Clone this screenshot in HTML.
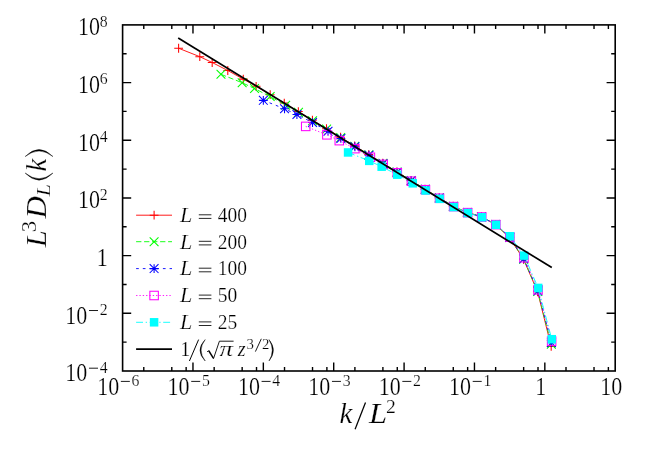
<!DOCTYPE html>
<html><head><meta charset="utf-8"><title>L^3 D_L(k) scaling plot</title>
<style>html,body{margin:0;padding:0;background:#fff}svg{display:block;will-change:transform}text{font-family:"Liberation Serif", serif;fill:#000;stroke:#fff;stroke-width:0.22px;paint-order:fill stroke}</style></head><body>
<svg width="654" height="449" viewBox="0 0 654 449">
<rect width="654" height="449" fill="#fff"/>
<path d="M178.61 48.26L199.79 56.68L212.18 62.50L227.79 70.50L243.28 79.12L256.12 86.31L270.19 94.66L284.27 103.07L298.34 111.57L312.42 120.12L326.49 128.67L340.57 137.23L354.64 145.88L368.71 154.53L382.79 163.18L396.86 171.84L410.94 180.49L425.01 189.14L439.09 197.79L453.16 206.24L467.23 212.37L481.31 216.73L495.38 224.36L509.46 237.50L523.53 259.24L537.61 291.82L551.18 346.46" stroke="#ff0000" stroke-width="0.9" fill="none"/>
<path d="M174.21 48.26h8.8M178.61 43.86v8.8" stroke="#ff0000" stroke-width="1.05" fill="none"/>
<path d="M195.39 56.68h8.8M199.79 52.28v8.8" stroke="#ff0000" stroke-width="1.05" fill="none"/>
<path d="M207.78 62.50h8.8M212.18 58.10v8.8" stroke="#ff0000" stroke-width="1.05" fill="none"/>
<path d="M223.39 70.50h8.8M227.79 66.10v8.8" stroke="#ff0000" stroke-width="1.05" fill="none"/>
<path d="M238.88 79.12h8.8M243.28 74.72v8.8" stroke="#ff0000" stroke-width="1.05" fill="none"/>
<path d="M251.72 86.31h8.8M256.12 81.91v8.8" stroke="#ff0000" stroke-width="1.05" fill="none"/>
<path d="M265.79 94.66h8.8M270.19 90.26v8.8" stroke="#ff0000" stroke-width="1.05" fill="none"/>
<path d="M279.87 103.07h8.8M284.27 98.67v8.8" stroke="#ff0000" stroke-width="1.05" fill="none"/>
<path d="M293.94 111.57h8.8M298.34 107.17v8.8" stroke="#ff0000" stroke-width="1.05" fill="none"/>
<path d="M308.02 120.12h8.8M312.42 115.72v8.8" stroke="#ff0000" stroke-width="1.05" fill="none"/>
<path d="M322.09 128.67h8.8M326.49 124.27v8.8" stroke="#ff0000" stroke-width="1.05" fill="none"/>
<path d="M336.17 137.23h8.8M340.57 132.83v8.8" stroke="#ff0000" stroke-width="1.05" fill="none"/>
<path d="M350.24 145.88h8.8M354.64 141.48v8.8" stroke="#ff0000" stroke-width="1.05" fill="none"/>
<path d="M364.31 154.53h8.8M368.71 150.13v8.8" stroke="#ff0000" stroke-width="1.05" fill="none"/>
<path d="M378.39 163.18h8.8M382.79 158.78v8.8" stroke="#ff0000" stroke-width="1.05" fill="none"/>
<path d="M392.46 171.84h8.8M396.86 167.44v8.8" stroke="#ff0000" stroke-width="1.05" fill="none"/>
<path d="M406.54 180.49h8.8M410.94 176.09v8.8" stroke="#ff0000" stroke-width="1.05" fill="none"/>
<path d="M420.61 189.14h8.8M425.01 184.74v8.8" stroke="#ff0000" stroke-width="1.05" fill="none"/>
<path d="M434.69 197.79h8.8M439.09 193.39v8.8" stroke="#ff0000" stroke-width="1.05" fill="none"/>
<path d="M448.76 206.24h8.8M453.16 201.84v8.8" stroke="#ff0000" stroke-width="1.05" fill="none"/>
<path d="M462.83 212.37h8.8M467.23 207.97v8.8" stroke="#ff0000" stroke-width="1.05" fill="none"/>
<path d="M476.91 216.73h8.8M481.31 212.33v8.8" stroke="#ff0000" stroke-width="1.05" fill="none"/>
<path d="M490.98 224.36h8.8M495.38 219.96v8.8" stroke="#ff0000" stroke-width="1.05" fill="none"/>
<path d="M505.06 237.50h8.8M509.46 233.10v8.8" stroke="#ff0000" stroke-width="1.05" fill="none"/>
<path d="M519.13 259.24h8.8M523.53 254.84v8.8" stroke="#ff0000" stroke-width="1.05" fill="none"/>
<path d="M533.21 291.82h8.8M537.61 287.42v8.8" stroke="#ff0000" stroke-width="1.05" fill="none"/>
<path d="M546.78 346.46h8.8M551.18 342.06v8.8" stroke="#ff0000" stroke-width="1.05" fill="none"/>
<path d="M220.98 74.31L242.16 82.73L254.55 88.55L270.16 96.55L285.65 105.17L298.49 112.36L312.56 120.71L326.64 129.11L340.71 137.62L354.79 146.17L368.86 154.72L382.93 163.27L397.01 171.93L411.08 180.58L425.16 189.23L439.23 197.88L453.31 206.33L467.38 212.46L481.45 216.82L495.53 224.45L509.60 237.49L523.68 259.13L537.75 291.48L551.33 344.26" stroke="#00ff00" stroke-width="0.9" fill="none" stroke-dasharray="5.3 2.7"/>
<path d="M216.58 69.91l8.8 8.8M216.58 78.71l8.8 -8.8" stroke="#00ff00" stroke-width="1.05" fill="none"/>
<path d="M237.76 78.33l8.8 8.8M237.76 87.13l8.8 -8.8" stroke="#00ff00" stroke-width="1.05" fill="none"/>
<path d="M250.15 84.15l8.8 8.8M250.15 92.95l8.8 -8.8" stroke="#00ff00" stroke-width="1.05" fill="none"/>
<path d="M265.76 92.15l8.8 8.8M265.76 100.95l8.8 -8.8" stroke="#00ff00" stroke-width="1.05" fill="none"/>
<path d="M281.25 100.77l8.8 8.8M281.25 109.57l8.8 -8.8" stroke="#00ff00" stroke-width="1.05" fill="none"/>
<path d="M294.09 107.96l8.8 8.8M294.09 116.76l8.8 -8.8" stroke="#00ff00" stroke-width="1.05" fill="none"/>
<path d="M308.16 116.31l8.8 8.8M308.16 125.11l8.8 -8.8" stroke="#00ff00" stroke-width="1.05" fill="none"/>
<path d="M322.24 124.71l8.8 8.8M322.24 133.51l8.8 -8.8" stroke="#00ff00" stroke-width="1.05" fill="none"/>
<path d="M336.31 133.22l8.8 8.8M336.31 142.02l8.8 -8.8" stroke="#00ff00" stroke-width="1.05" fill="none"/>
<path d="M350.39 141.77l8.8 8.8M350.39 150.57l8.8 -8.8" stroke="#00ff00" stroke-width="1.05" fill="none"/>
<path d="M364.46 150.32l8.8 8.8M364.46 159.12l8.8 -8.8" stroke="#00ff00" stroke-width="1.05" fill="none"/>
<path d="M378.53 158.87l8.8 8.8M378.53 167.67l8.8 -8.8" stroke="#00ff00" stroke-width="1.05" fill="none"/>
<path d="M392.61 167.53l8.8 8.8M392.61 176.33l8.8 -8.8" stroke="#00ff00" stroke-width="1.05" fill="none"/>
<path d="M406.68 176.18l8.8 8.8M406.68 184.98l8.8 -8.8" stroke="#00ff00" stroke-width="1.05" fill="none"/>
<path d="M420.76 184.83l8.8 8.8M420.76 193.63l8.8 -8.8" stroke="#00ff00" stroke-width="1.05" fill="none"/>
<path d="M434.83 193.48l8.8 8.8M434.83 202.28l8.8 -8.8" stroke="#00ff00" stroke-width="1.05" fill="none"/>
<path d="M448.91 201.93l8.8 8.8M448.91 210.73l8.8 -8.8" stroke="#00ff00" stroke-width="1.05" fill="none"/>
<path d="M462.98 208.06l8.8 8.8M462.98 216.86l8.8 -8.8" stroke="#00ff00" stroke-width="1.05" fill="none"/>
<path d="M477.05 212.42l8.8 8.8M477.05 221.22l8.8 -8.8" stroke="#00ff00" stroke-width="1.05" fill="none"/>
<path d="M491.13 220.05l8.8 8.8M491.13 228.85l8.8 -8.8" stroke="#00ff00" stroke-width="1.05" fill="none"/>
<path d="M505.20 233.09l8.8 8.8M505.20 241.89l8.8 -8.8" stroke="#00ff00" stroke-width="1.05" fill="none"/>
<path d="M519.28 254.73l8.8 8.8M519.28 263.53l8.8 -8.8" stroke="#00ff00" stroke-width="1.05" fill="none"/>
<path d="M533.35 287.08l8.8 8.8M533.35 295.88l8.8 -8.8" stroke="#00ff00" stroke-width="1.05" fill="none"/>
<path d="M546.93 339.86l8.8 8.8M546.93 348.66l8.8 -8.8" stroke="#00ff00" stroke-width="1.05" fill="none"/>
<path d="M263.34 100.35L284.53 108.78L296.92 114.59L312.53 122.59L328.02 131.21L340.86 138.41L354.93 146.76L369.00 155.16L383.08 163.66L397.15 172.22L411.23 180.77L425.30 189.32L439.38 197.97L453.45 206.42L467.52 212.55L481.60 216.91L495.67 224.54L509.75 237.37L523.82 258.81L537.90 290.85L551.47 342.65" stroke="#0000ff" stroke-width="0.9" fill="none" stroke-dasharray="2.7 4"/>
<path d="M258.94 100.35h8.8M263.34 95.95v8.8M258.94 95.95l8.8 8.8M258.94 104.75l8.8 -8.8" stroke="#0000ff" stroke-width="1.05" fill="none"/>
<path d="M280.13 108.78h8.8M284.53 104.38v8.8M280.13 104.38l8.8 8.8M280.13 113.18l8.8 -8.8" stroke="#0000ff" stroke-width="1.05" fill="none"/>
<path d="M292.52 114.59h8.8M296.92 110.19v8.8M292.52 110.19l8.8 8.8M292.52 118.99l8.8 -8.8" stroke="#0000ff" stroke-width="1.05" fill="none"/>
<path d="M308.13 122.59h8.8M312.53 118.19v8.8M308.13 118.19l8.8 8.8M308.13 126.99l8.8 -8.8" stroke="#0000ff" stroke-width="1.05" fill="none"/>
<path d="M323.62 131.21h8.8M328.02 126.81v8.8M323.62 126.81l8.8 8.8M323.62 135.61l8.8 -8.8" stroke="#0000ff" stroke-width="1.05" fill="none"/>
<path d="M336.46 138.41h8.8M340.86 134.01v8.8M336.46 134.01l8.8 8.8M336.46 142.81l8.8 -8.8" stroke="#0000ff" stroke-width="1.05" fill="none"/>
<path d="M350.53 146.76h8.8M354.93 142.36v8.8M350.53 142.36l8.8 8.8M350.53 151.16l8.8 -8.8" stroke="#0000ff" stroke-width="1.05" fill="none"/>
<path d="M364.60 155.16h8.8M369.00 150.76v8.8M364.60 150.76l8.8 8.8M364.60 159.56l8.8 -8.8" stroke="#0000ff" stroke-width="1.05" fill="none"/>
<path d="M378.68 163.66h8.8M383.08 159.26v8.8M378.68 159.26l8.8 8.8M378.68 168.06l8.8 -8.8" stroke="#0000ff" stroke-width="1.05" fill="none"/>
<path d="M392.75 172.22h8.8M397.15 167.82v8.8M392.75 167.82l8.8 8.8M392.75 176.62l8.8 -8.8" stroke="#0000ff" stroke-width="1.05" fill="none"/>
<path d="M406.83 180.77h8.8M411.23 176.37v8.8M406.83 176.37l8.8 8.8M406.83 185.17l8.8 -8.8" stroke="#0000ff" stroke-width="1.05" fill="none"/>
<path d="M420.90 189.32h8.8M425.30 184.92v8.8M420.90 184.92l8.8 8.8M420.90 193.72l8.8 -8.8" stroke="#0000ff" stroke-width="1.05" fill="none"/>
<path d="M434.98 197.97h8.8M439.38 193.57v8.8M434.98 193.57l8.8 8.8M434.98 202.37l8.8 -8.8" stroke="#0000ff" stroke-width="1.05" fill="none"/>
<path d="M449.05 206.42h8.8M453.45 202.02v8.8M449.05 202.02l8.8 8.8M449.05 210.82l8.8 -8.8" stroke="#0000ff" stroke-width="1.05" fill="none"/>
<path d="M463.12 212.55h8.8M467.52 208.15v8.8M463.12 208.15l8.8 8.8M463.12 216.95l8.8 -8.8" stroke="#0000ff" stroke-width="1.05" fill="none"/>
<path d="M477.20 216.91h8.8M481.60 212.51v8.8M477.20 212.51l8.8 8.8M477.20 221.31l8.8 -8.8" stroke="#0000ff" stroke-width="1.05" fill="none"/>
<path d="M491.27 224.54h8.8M495.67 220.14v8.8M491.27 220.14l8.8 8.8M491.27 228.94l8.8 -8.8" stroke="#0000ff" stroke-width="1.05" fill="none"/>
<path d="M505.35 237.37h8.8M509.75 232.97v8.8M505.35 232.97l8.8 8.8M505.35 241.77l8.8 -8.8" stroke="#0000ff" stroke-width="1.05" fill="none"/>
<path d="M519.42 258.81h8.8M523.82 254.41v8.8M519.42 254.41l8.8 8.8M519.42 263.21l8.8 -8.8" stroke="#0000ff" stroke-width="1.05" fill="none"/>
<path d="M533.50 290.85h8.8M537.90 286.45v8.8M533.50 286.45l8.8 8.8M533.50 295.25l8.8 -8.8" stroke="#0000ff" stroke-width="1.05" fill="none"/>
<path d="M547.07 342.65h8.8M551.47 338.25v8.8M547.07 338.25l8.8 8.8M547.07 347.05l8.8 -8.8" stroke="#0000ff" stroke-width="1.05" fill="none"/>
<path d="M305.71 126.40L326.89 134.82L339.29 140.64L354.90 148.64L370.39 157.26L383.22 164.45L397.30 172.80L411.37 181.21L425.45 189.71L439.52 198.26L453.60 206.61L467.67 212.64L481.74 217.00L495.82 224.63L509.89 237.06L523.97 257.70L538.04 289.82L551.62 341.14" stroke="#ff00ff" stroke-width="0.9" fill="none" stroke-dasharray="1.33 2"/>
<rect x="301.46" y="122.15" width="8.5" height="8.5" stroke="#ff00ff" stroke-width="1.05" fill="none"/>
<rect x="322.64" y="130.57" width="8.5" height="8.5" stroke="#ff00ff" stroke-width="1.05" fill="none"/>
<rect x="335.04" y="136.39" width="8.5" height="8.5" stroke="#ff00ff" stroke-width="1.05" fill="none"/>
<rect x="350.65" y="144.39" width="8.5" height="8.5" stroke="#ff00ff" stroke-width="1.05" fill="none"/>
<rect x="366.14" y="153.01" width="8.5" height="8.5" stroke="#ff00ff" stroke-width="1.05" fill="none"/>
<rect x="378.97" y="160.20" width="8.5" height="8.5" stroke="#ff00ff" stroke-width="1.05" fill="none"/>
<rect x="393.05" y="168.55" width="8.5" height="8.5" stroke="#ff00ff" stroke-width="1.05" fill="none"/>
<rect x="407.12" y="176.96" width="8.5" height="8.5" stroke="#ff00ff" stroke-width="1.05" fill="none"/>
<rect x="421.20" y="185.46" width="8.5" height="8.5" stroke="#ff00ff" stroke-width="1.05" fill="none"/>
<rect x="435.27" y="194.01" width="8.5" height="8.5" stroke="#ff00ff" stroke-width="1.05" fill="none"/>
<rect x="449.35" y="202.36" width="8.5" height="8.5" stroke="#ff00ff" stroke-width="1.05" fill="none"/>
<rect x="463.42" y="208.39" width="8.5" height="8.5" stroke="#ff00ff" stroke-width="1.05" fill="none"/>
<rect x="477.49" y="212.75" width="8.5" height="8.5" stroke="#ff00ff" stroke-width="1.05" fill="none"/>
<rect x="491.57" y="220.38" width="8.5" height="8.5" stroke="#ff00ff" stroke-width="1.05" fill="none"/>
<rect x="505.64" y="232.81" width="8.5" height="8.5" stroke="#ff00ff" stroke-width="1.05" fill="none"/>
<rect x="519.72" y="253.45" width="8.5" height="8.5" stroke="#ff00ff" stroke-width="1.05" fill="none"/>
<rect x="533.79" y="285.57" width="8.5" height="8.5" stroke="#ff00ff" stroke-width="1.05" fill="none"/>
<rect x="547.37" y="336.89" width="8.5" height="8.5" stroke="#ff00ff" stroke-width="1.05" fill="none"/>
<path d="M348.08 152.45L369.26 160.87L381.65 166.69L397.27 174.69L412.76 183.31L425.59 190.50L439.67 198.85L453.74 207.05L467.81 213.03L481.89 217.29L495.96 224.81L510.04 236.24L524.11 255.59L538.19 287.91L551.76 339.22" stroke="#00ffff" stroke-width="0.9" fill="none" stroke-dasharray="6.9 2.7 1.35 2.6"/>
<rect x="343.83" y="148.20" width="8.5" height="8.5" fill="#00ffff"/>
<rect x="365.01" y="156.62" width="8.5" height="8.5" fill="#00ffff"/>
<rect x="377.40" y="162.44" width="8.5" height="8.5" fill="#00ffff"/>
<rect x="393.02" y="170.44" width="8.5" height="8.5" fill="#00ffff"/>
<rect x="408.51" y="179.06" width="8.5" height="8.5" fill="#00ffff"/>
<rect x="421.34" y="186.25" width="8.5" height="8.5" fill="#00ffff"/>
<rect x="435.42" y="194.60" width="8.5" height="8.5" fill="#00ffff"/>
<rect x="449.49" y="202.80" width="8.5" height="8.5" fill="#00ffff"/>
<rect x="463.56" y="208.78" width="8.5" height="8.5" fill="#00ffff"/>
<rect x="477.64" y="213.04" width="8.5" height="8.5" fill="#00ffff"/>
<rect x="491.71" y="220.56" width="8.5" height="8.5" fill="#00ffff"/>
<rect x="505.79" y="231.99" width="8.5" height="8.5" fill="#00ffff"/>
<rect x="519.86" y="251.34" width="8.5" height="8.5" fill="#00ffff"/>
<rect x="533.94" y="283.66" width="8.5" height="8.5" fill="#00ffff"/>
<rect x="547.51" y="334.97" width="8.5" height="8.5" fill="#00ffff"/>
<path d="M178.21 37.91L551.78 267.58" stroke="#000" stroke-width="1.7" fill="none"/>
<path d="M136.1 215.2H172.0" stroke="#ff0000" stroke-width="0.9" fill="none"/>
<path d="M149.70 215.20h8.8M154.10 210.80v8.8" stroke="#ff0000" stroke-width="1.05" fill="none"/>
<path d="M136.1 241.7H172.0" stroke="#00ff00" stroke-width="0.9" fill="none" stroke-dasharray="5.3 2.7"/>
<path d="M149.70 237.30l8.8 8.8M149.70 246.10l8.8 -8.8" stroke="#00ff00" stroke-width="1.05" fill="none"/>
<path d="M136.1 268.6H172.0" stroke="#0000ff" stroke-width="0.9" fill="none" stroke-dasharray="2.7 4"/>
<path d="M149.70 268.60h8.8M154.10 264.20v8.8M149.70 264.20l8.8 8.8M149.70 273.00l8.8 -8.8" stroke="#0000ff" stroke-width="1.05" fill="none"/>
<path d="M136.1 295.5H172.0" stroke="#ff00ff" stroke-width="0.9" fill="none" stroke-dasharray="1.33 2"/>
<rect x="149.85" y="291.25" width="8.5" height="8.5" stroke="#ff00ff" stroke-width="1.05" fill="none"/>
<path d="M136.1 322.3H172.0" stroke="#00ffff" stroke-width="0.9" fill="none" stroke-dasharray="6.9 2.7 1.35 2.6"/>
<rect x="149.85" y="318.05" width="8.5" height="8.5" fill="#00ffff"/>
<path d="M136.1 349.2H172.0" stroke="#000" stroke-width="1.7" fill="none"/>
<path d="M143.78 371.00v-4.0M143.78 24.90v4.0M171.79 371.00v-4.0M171.79 24.90v4.0M186.15 371.00v-4.0M186.15 24.90v4.0M192.97 371.00v-8.6M192.97 24.90v8.6M214.16 371.00v-4.0M214.16 24.90v4.0M242.16 371.00v-4.0M242.16 24.90v4.0M256.52 371.00v-4.0M256.52 24.90v4.0M263.34 371.00v-8.6M263.34 24.90v8.6M284.53 371.00v-4.0M284.53 24.90v4.0M312.53 371.00v-4.0M312.53 24.90v4.0M326.89 371.00v-4.0M326.89 24.90v4.0M333.71 371.00v-8.6M333.71 24.90v8.6M354.90 371.00v-4.0M354.90 24.90v4.0M382.90 371.00v-4.0M382.90 24.90v4.0M397.27 371.00v-4.0M397.27 24.90v4.0M404.09 371.00v-8.6M404.09 24.90v8.6M425.27 371.00v-4.0M425.27 24.90v4.0M453.27 371.00v-4.0M453.27 24.90v4.0M467.64 371.00v-4.0M467.64 24.90v4.0M474.46 371.00v-8.6M474.46 24.90v8.6M495.64 371.00v-4.0M495.64 24.90v4.0M523.64 371.00v-4.0M523.64 24.90v4.0M538.01 371.00v-4.0M538.01 24.90v4.0M544.83 371.00v-8.6M544.83 24.90v8.6M566.01 371.00v-4.0M566.01 24.90v4.0M594.02 371.00v-4.0M594.02 24.90v4.0M608.38 371.00v-4.0M608.38 24.90v4.0M122.60 342.16h4.0M615.20 342.16h-4.0M122.60 313.32h8.6M615.20 313.32h-8.6M122.60 284.48h4.0M615.20 284.48h-4.0M122.60 255.63h8.6M615.20 255.63h-8.6M122.60 226.79h4.0M615.20 226.79h-4.0M122.60 197.95h8.6M615.20 197.95h-8.6M122.60 169.11h4.0M615.20 169.11h-4.0M122.60 140.27h8.6M615.20 140.27h-8.6M122.60 111.42h4.0M615.20 111.42h-4.0M122.60 82.58h8.6M615.20 82.58h-8.6M122.60 53.74h4.0M615.20 53.74h-4.0" stroke="#000" stroke-width="1.4" fill="none"/>
<rect x="122.60" y="24.90" width="492.60" height="346.10" stroke="#000" stroke-width="1.6" fill="none"/>
<text x="180.00" y="222.00" font-size="20.400000000000002" font-style="italic" text-anchor="start" textLength="12.3" lengthAdjust="spacingAndGlyphs">L</text>
<path d="M198.8 218.40h12.6M198.8 214.80h12.6" stroke="#000" stroke-width="0.85" fill="none"/>
<text x="217.70" y="222.00" font-size="20.1" text-anchor="start" textLength="29.2" lengthAdjust="spacingAndGlyphs">400</text>
<text x="180.00" y="248.50" font-size="20.400000000000002" font-style="italic" text-anchor="start" textLength="12.3" lengthAdjust="spacingAndGlyphs">L</text>
<path d="M198.8 244.90h12.6M198.8 241.30h12.6" stroke="#000" stroke-width="0.85" fill="none"/>
<text x="217.70" y="248.50" font-size="20.1" text-anchor="start" textLength="29.2" lengthAdjust="spacingAndGlyphs">200</text>
<text x="180.00" y="275.40" font-size="20.400000000000002" font-style="italic" text-anchor="start" textLength="12.3" lengthAdjust="spacingAndGlyphs">L</text>
<path d="M198.8 271.80h12.6M198.8 268.20h12.6" stroke="#000" stroke-width="0.85" fill="none"/>
<text x="217.70" y="275.40" font-size="20.1" text-anchor="start" textLength="29.2" lengthAdjust="spacingAndGlyphs">100</text>
<text x="180.00" y="302.30" font-size="20.400000000000002" font-style="italic" text-anchor="start" textLength="12.3" lengthAdjust="spacingAndGlyphs">L</text>
<path d="M198.8 298.70h12.6M198.8 295.10h12.6" stroke="#000" stroke-width="0.85" fill="none"/>
<text x="217.70" y="302.30" font-size="20.1" text-anchor="start" textLength="19.5" lengthAdjust="spacingAndGlyphs">50</text>
<text x="180.00" y="329.10" font-size="20.400000000000002" font-style="italic" text-anchor="start" textLength="12.3" lengthAdjust="spacingAndGlyphs">L</text>
<path d="M198.8 325.50h12.6M198.8 321.90h12.6" stroke="#000" stroke-width="0.85" fill="none"/>
<text x="217.70" y="329.10" font-size="20.1" text-anchor="start" textLength="19.5" lengthAdjust="spacingAndGlyphs">25</text>
<text x="180.20" y="355.80" font-size="20.1" text-anchor="start">1</text>
<path d="M189.40 361.00L198.60 339.60" stroke="#000" stroke-width="1.0" fill="none"/>
<path d="M205.20 339.60Q194.81 350.30 205.20 361.00Q196.99 350.30 205.20 339.60Z" fill="#000" stroke="#000" stroke-width="0.45" stroke-linejoin="round"/>
<path d="M207.0 351.8l1.9 -1.1" stroke="#000" stroke-width="0.8" fill="none"/>
<path d="M208.7 350.6L213.3 358.2" stroke="#000" stroke-width="1.5" fill="none"/>
<path d="M213.4 358.9L219.4 341.2H233.6" stroke="#000" stroke-width="0.9" fill="none" stroke-linejoin="miter"/>
<text x="219.60" y="355.80" font-size="20.1" font-style="italic" text-anchor="start" textLength="13.6" lengthAdjust="spacingAndGlyphs">&#960;</text>
<text x="237.80" y="355.80" font-size="20.1" font-style="italic" text-anchor="start">z</text>
<text x="246.40" y="349.20" font-size="14.8" text-anchor="start">3</text>
<path d="M255.40 351.60L261.30 338.80" stroke="#000" stroke-width="0.9" fill="none"/>
<text x="262.10" y="349.20" font-size="14.8" text-anchor="start">2</text>
<path d="M269.00 339.60Q275.61 350.30 269.00 361.00Q277.79 350.30 269.00 339.60Z" fill="#000" stroke="#000" stroke-width="0.45" stroke-linejoin="round"/>
<text x="107.60" y="372.60" font-size="17.7" text-anchor="end" textLength="7.9" lengthAdjust="spacingAndGlyphs">4</text><path d="M89.00 368.20H98.00" stroke="#000" stroke-width="0.9" fill="none"/><text x="87.30" y="381.30" font-size="25.0" text-anchor="end" textLength="22.0" lengthAdjust="spacingAndGlyphs">10</text>
<text x="107.60" y="314.92" font-size="17.7" text-anchor="end" textLength="7.9" lengthAdjust="spacingAndGlyphs">2</text><path d="M89.00 310.52H98.00" stroke="#000" stroke-width="0.9" fill="none"/><text x="87.30" y="323.62" font-size="25.0" text-anchor="end" textLength="22.0" lengthAdjust="spacingAndGlyphs">10</text>
<text x="107.80" y="265.93" font-size="25.0" text-anchor="end" textLength="11.0" lengthAdjust="spacingAndGlyphs">1</text>
<text x="107.60" y="199.55" font-size="17.7" text-anchor="end" textLength="7.9" lengthAdjust="spacingAndGlyphs">2</text><text x="100.00" y="208.25" font-size="25.0" text-anchor="end" textLength="22.0" lengthAdjust="spacingAndGlyphs">10</text>
<text x="107.60" y="141.87" font-size="17.7" text-anchor="end" textLength="7.9" lengthAdjust="spacingAndGlyphs">4</text><text x="100.00" y="150.57" font-size="25.0" text-anchor="end" textLength="22.0" lengthAdjust="spacingAndGlyphs">10</text>
<text x="107.60" y="84.18" font-size="17.7" text-anchor="end" textLength="7.9" lengthAdjust="spacingAndGlyphs">6</text><text x="100.00" y="92.88" font-size="25.0" text-anchor="end" textLength="22.0" lengthAdjust="spacingAndGlyphs">10</text>
<text x="107.60" y="26.50" font-size="17.7" text-anchor="end" textLength="7.9" lengthAdjust="spacingAndGlyphs">8</text><text x="100.00" y="35.20" font-size="25.0" text-anchor="end" textLength="22.0" lengthAdjust="spacingAndGlyphs">10</text>
<text x="139.45" y="385.80" font-size="17.7" text-anchor="end" textLength="7.9" lengthAdjust="spacingAndGlyphs">6</text><path d="M120.85 381.40H129.85" stroke="#000" stroke-width="0.9" fill="none"/><text x="119.15" y="394.50" font-size="25.0" text-anchor="end" textLength="22.0" lengthAdjust="spacingAndGlyphs">10</text>
<text x="209.82" y="385.80" font-size="17.7" text-anchor="end" textLength="7.9" lengthAdjust="spacingAndGlyphs">5</text><path d="M191.22 381.40H200.22" stroke="#000" stroke-width="0.9" fill="none"/><text x="189.52" y="394.50" font-size="25.0" text-anchor="end" textLength="22.0" lengthAdjust="spacingAndGlyphs">10</text>
<text x="280.19" y="385.80" font-size="17.7" text-anchor="end" textLength="7.9" lengthAdjust="spacingAndGlyphs">4</text><path d="M261.59 381.40H270.59" stroke="#000" stroke-width="0.9" fill="none"/><text x="259.89" y="394.50" font-size="25.0" text-anchor="end" textLength="22.0" lengthAdjust="spacingAndGlyphs">10</text>
<text x="350.56" y="385.80" font-size="17.7" text-anchor="end" textLength="7.9" lengthAdjust="spacingAndGlyphs">3</text><path d="M331.96 381.40H340.96" stroke="#000" stroke-width="0.9" fill="none"/><text x="330.26" y="394.50" font-size="25.0" text-anchor="end" textLength="22.0" lengthAdjust="spacingAndGlyphs">10</text>
<text x="420.94" y="385.80" font-size="17.7" text-anchor="end" textLength="7.9" lengthAdjust="spacingAndGlyphs">2</text><path d="M402.34 381.40H411.34" stroke="#000" stroke-width="0.9" fill="none"/><text x="400.64" y="394.50" font-size="25.0" text-anchor="end" textLength="22.0" lengthAdjust="spacingAndGlyphs">10</text>
<text x="491.31" y="385.80" font-size="17.7" text-anchor="end" textLength="7.9" lengthAdjust="spacingAndGlyphs">1</text><path d="M472.71 381.40H481.71" stroke="#000" stroke-width="0.9" fill="none"/><text x="471.01" y="394.50" font-size="25.0" text-anchor="end" textLength="22.0" lengthAdjust="spacingAndGlyphs">10</text>
<text x="546.23" y="394.50" font-size="25.0" text-anchor="end" textLength="11.0" lengthAdjust="spacingAndGlyphs">1</text>
<text x="622.30" y="394.50" font-size="25.0" text-anchor="end" textLength="22.0" lengthAdjust="spacingAndGlyphs">10</text>
<text x="339.40" y="422.80" font-size="28.8" font-style="italic" text-anchor="start">k</text>
<path d="M355.10 429.30L365.50 402.50" stroke="#000" stroke-width="1.25" fill="none"/>
<text x="368.90" y="422.80" font-size="28.8" font-style="italic" text-anchor="start" textLength="18.2" lengthAdjust="spacingAndGlyphs">L</text>
<text x="385.90" y="413.00" font-size="19.6" text-anchor="start">2</text>
<g transform="translate(46 247.9) rotate(-90)">
<text x="0.60" y="0.00" font-size="28.8" font-style="italic" text-anchor="start" textLength="17.0" lengthAdjust="spacingAndGlyphs">L</text>
<text x="15.60" y="-10.30" font-size="20.0" text-anchor="start" textLength="11.4" lengthAdjust="spacingAndGlyphs">3</text>
<text x="29.40" y="0.00" font-size="28.8" font-style="italic" text-anchor="start" textLength="22.4" lengthAdjust="spacingAndGlyphs">D</text>
<text x="51.60" y="4.40" font-size="19.6" font-style="italic" text-anchor="start" textLength="12.2" lengthAdjust="spacingAndGlyphs">L</text>
<path d="M74.80 -20.80Q60.68 -6.95 74.80 6.90Q63.53 -6.95 74.80 -20.80Z" fill="#000" stroke="#000" stroke-width="0.45" stroke-linejoin="round"/>
<text x="76.40" y="0.00" font-size="28.8" font-style="italic" text-anchor="start">k</text>
<path d="M91.40 -20.80Q102.48 -6.95 91.40 6.90Q105.33 -6.95 91.40 -20.80Z" fill="#000" stroke="#000" stroke-width="0.45" stroke-linejoin="round"/>
</g>
</svg></body></html>
